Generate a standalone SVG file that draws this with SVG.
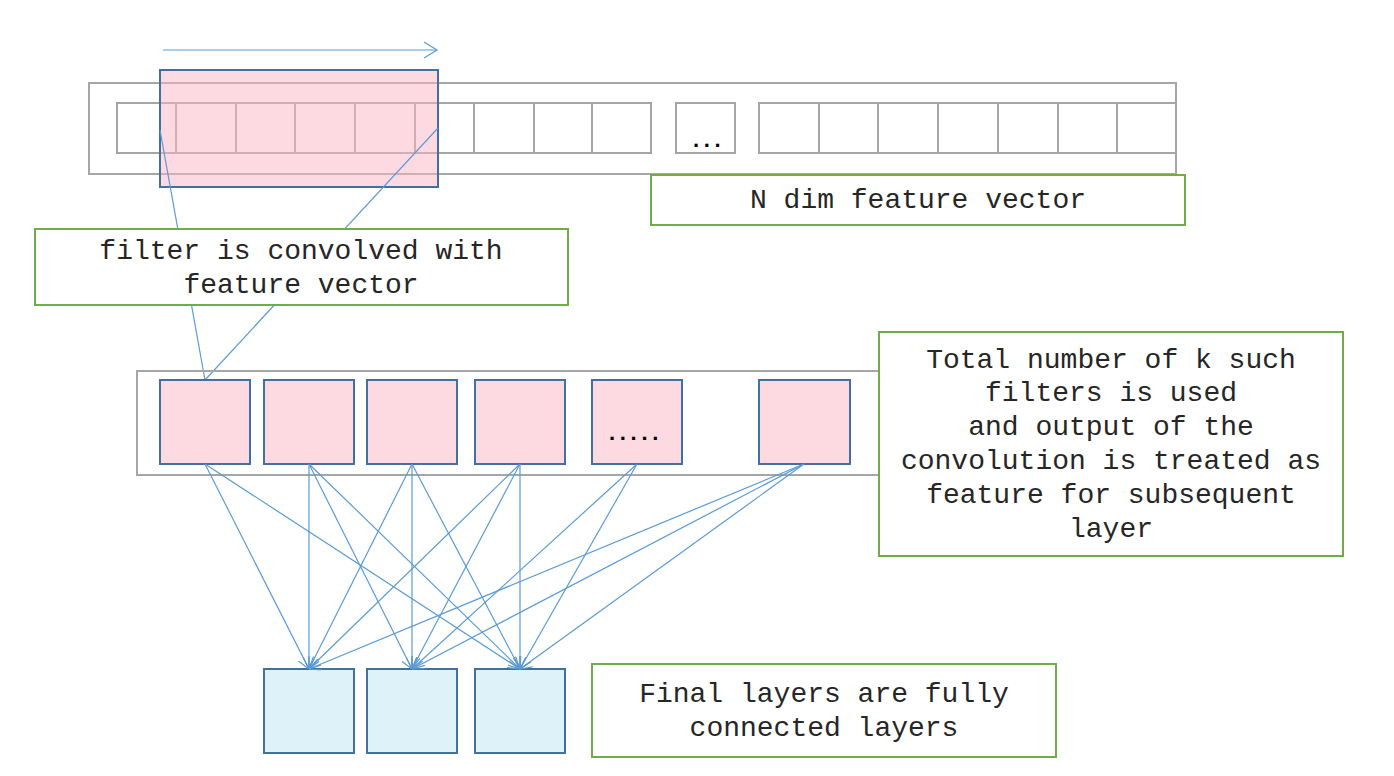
<svg xmlns="http://www.w3.org/2000/svg" width="1394" height="776" viewBox="0 0 1394 776">
<defs>
<marker id="ah" viewBox="0 0 12 12" refX="12" refY="6" markerWidth="12" markerHeight="12" markerUnits="userSpaceOnUse" orient="auto">
<path d="M0,0 L12,6 L0,12" fill="none" stroke="#5B9BD5" stroke-width="1.2"/>
</marker>
<style>
.gray{fill:none;stroke:#A6A6A6;stroke-width:2}
.cell{fill:#fff;stroke:#A6A6A6;stroke-width:2}
.lbl{fill:#fff;stroke:#70AD47;stroke-width:2}
.pink{fill:#FDD9E1;stroke:#41719C;stroke-width:2}
.blue{fill:#DEF3F9;stroke:#41719C;stroke-width:2}
.t{font-family:"Liberation Mono","Courier New",monospace;font-size:28px;fill:#262626;text-anchor:middle}
.dots{font-family:"Liberation Sans",Arial,sans-serif;font-weight:bold;font-size:22px;fill:#000;letter-spacing:4.7px}
.ln{stroke:#5B9BD5;stroke-width:1.2;fill:none}
.cn{stroke:#5B9BD5;stroke-width:1.2;fill:none;marker-end:url(#ah)}
</style>
</defs>
<rect width="1394" height="776" fill="#fff"/>

<g id="feature-vector">
<rect class="gray" x="89" y="83" width="1087" height="91"/>
<rect class="cell" x="117" y="103" width="59" height="50"/>
<rect class="cell" x="176" y="103" width="60" height="50"/>
<rect class="cell" x="236" y="103" width="59" height="50"/>
<rect class="cell" x="295" y="103" width="60" height="50"/>
<rect class="cell" x="355" y="103" width="60" height="50"/>
<rect class="cell" x="415" y="103" width="59" height="50"/>
<rect class="cell" x="474" y="103" width="60" height="50"/>
<rect class="cell" x="534" y="103" width="58" height="50"/>
<rect class="cell" x="592" y="103" width="59" height="50"/>
<rect class="cell" x="676" y="103" width="59" height="50"/>
<text class="dots" x="693" y="147">...</text>
<rect class="cell" x="759" y="103" width="60" height="50"/>
<rect class="cell" x="819" y="103" width="59" height="50"/>
<rect class="cell" x="878" y="103" width="60" height="50"/>
<rect class="cell" x="938" y="103" width="60" height="50"/>
<rect class="cell" x="998" y="103" width="60" height="50"/>
<rect class="cell" x="1058" y="103" width="59" height="50"/>
<rect class="cell" x="1117" y="103" width="59" height="50"/>
</g>

<g id="filter">
<rect x="160" y="70" width="278" height="117" fill="#FBB3C3" fill-opacity="0.5" stroke="#41719C" stroke-width="2"/>
<line class="ln" x1="163" y1="50" x2="437" y2="50"/>
<path class="ln" d="M424,42 L437,50 L424,58"/>
</g>

<g id="filter-lines">
<line class="ln" x1="160" y1="130" x2="205" y2="380"/>
<line class="ln" x1="438" y1="128" x2="205" y2="380"/>
</g>

<g id="label-vector">
<rect class="lbl" x="651" y="175" width="534" height="50"/>
<text class="t" x="918" y="208">N dim feature vector</text>
</g>

<g id="label-filter">
<rect class="lbl" x="35" y="229" width="533" height="76"/>
<text class="t" x="301" y="259">filter is convolved with</text>
<text class="t" x="301" y="293">feature vector</text>
</g>

<g id="conv-layer">
<rect class="gray" x="137" y="371" width="780" height="104"/>
<rect class="pink" x="160" y="380" width="90" height="84"/>
<rect class="pink" x="264" y="380" width="90" height="84"/>
<rect class="pink" x="367" y="380" width="90" height="84"/>
<rect class="pink" x="475" y="380" width="90" height="84"/>
<rect class="pink" x="592" y="380" width="90" height="84"/>
<text class="dots" x="609" y="440">.....</text>
<rect class="pink" x="759" y="380" width="91" height="84"/>
</g>

<g id="label-total">
<rect class="lbl" x="879" y="332" width="464" height="224"/>
<text class="t" x="1111" y="368">Total number of k such</text>
<text class="t" x="1111" y="401">filters is used</text>
<text class="t" x="1111" y="435">and output of the</text>
<text class="t" x="1111" y="469">convolution is treated as</text>
<text class="t" x="1111" y="503">feature for subsequent</text>
<text class="t" x="1111" y="537">layer</text>
</g>

<g id="fc-layer">
<rect class="blue" x="264" y="669" width="90" height="84"/>
<rect class="blue" x="367" y="669" width="90" height="84"/>
<rect class="blue" x="475" y="669" width="90" height="84"/>
</g>

<g id="label-final">
<rect class="lbl" x="592" y="664" width="464" height="93"/>
<text class="t" x="824" y="702">Final layers are fully</text>
<text class="t" x="824" y="736">connected layers</text>
</g>

<g id="connectors">
<line class="cn" x1="205" y1="464" x2="309" y2="669"/>
<line class="cn" x1="205" y1="464" x2="520" y2="669"/>
<line class="cn" x1="309" y1="464" x2="309" y2="669"/>
<line class="cn" x1="309" y1="464" x2="412" y2="669"/>
<line class="cn" x1="309" y1="464" x2="520" y2="669"/>
<line class="cn" x1="412" y1="464" x2="309" y2="669"/>
<line class="cn" x1="412" y1="464" x2="412" y2="669"/>
<line class="cn" x1="412" y1="464" x2="520" y2="669"/>
<line class="cn" x1="520" y1="464" x2="309" y2="669"/>
<line class="cn" x1="520" y1="464" x2="412" y2="669"/>
<line class="cn" x1="520" y1="464" x2="520" y2="669"/>
<line class="cn" x1="637" y1="464" x2="412" y2="669"/>
<line class="cn" x1="637" y1="464" x2="520" y2="669"/>
<line class="cn" x1="804" y1="464" x2="309" y2="669"/>
<line class="cn" x1="804" y1="464" x2="412" y2="669"/>
<line class="cn" x1="804" y1="464" x2="520" y2="669"/>
</g>
</svg>
